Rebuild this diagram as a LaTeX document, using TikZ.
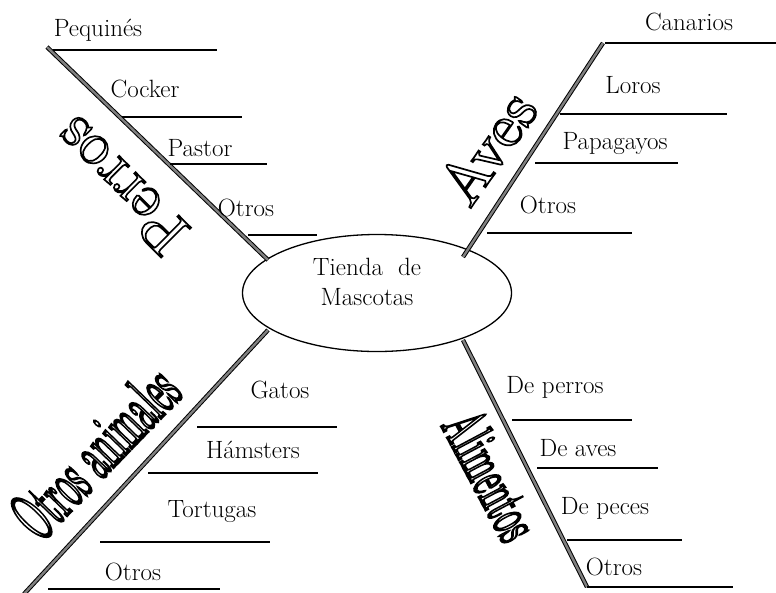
\documentclass[tikz,border=0pt]{standalone}
\usepackage{fontspec}
\newfontfamily\waplain{lmroman10-regular.otf}
\usetikzlibrary{shapes.geometric}
\tikzset{
  spoke/.style={line width=1pt, double=black!50, double distance=2.4pt},
  branch/.style={line width=1.3pt},
  lbl/.style={font=\fontsize{25}{30}\selectfont, inner sep=0pt},
  hubshape/.style={draw, ellipse, line width=1.3pt, minimum width=269pt, minimum height=117pt, inner sep=0pt},
  wordartstyle/.style={inner sep=0pt, text=black},
}
% hollow (outlined) letters through the PDF text render mode
\newcommand\hollow[3]{\fontsize{#1}{#1}\waplain\special{pdf:literal direct 1 Tr #2 w}#3\special{pdf:literal direct 0 Tr}}
\begin{document}
\begin{tikzpicture}[x=1pt,y=-1pt]
\useasboundingbox (0,0) rectangle (776,592);
% hub
\node[hubshape] (hub) at (377,293) {};
\node[lbl, align=center] (hubtext) at (367,282) {Tienda\ \ de\\Mascotas};
% spoke ends
\coordinate (pA) at (47,47);   \coordinate (pB) at (268,260);
\coordinate (aA) at (603,43);  \coordinate (aB) at (463,257);
\coordinate (oA) at (24,594);  \coordinate (oB) at (268,330);
\coordinate (lA) at (463,340); \coordinate (lB) at (587,587);
\draw[spoke] (pA) -- (pB);
\draw[spoke] (aA) -- (aB);
\draw[spoke] (oA) -- (oB);
\draw[spoke] (lA) -- (lB);
% Perros branches
\coordinate (p1a) at (53,50);   \coordinate (p1b) at (217,50);
\coordinate (p2a) at (122,117); \coordinate (p2b) at (242,117);
\coordinate (p3a) at (170,164); \coordinate (p3b) at (267,164);
\coordinate (p4a) at (248,235); \coordinate (p4b) at (317,235);
\draw[branch] (p1a) -- (p1b); \draw[branch] (p2a) -- (p2b);
\draw[branch] (p3a) -- (p3b); \draw[branch] (p4a) -- (p4b);
\node[lbl] (pequines) at (98,30) {Pequinés};
\node[lbl] (cocker) at (145,89) {Cocker};
\node[lbl] (pastor) at (200,148) {Pastor};
\node[lbl] (potros) at (246,208) {Otros};
% Aves branches
\coordinate (a1a) at (605,43);  \coordinate (a1b) at (776,43);
\coordinate (a2a) at (560,114); \coordinate (a2b) at (727,114);
\coordinate (a3a) at (535,163); \coordinate (a3b) at (678,163);
\coordinate (a4a) at (487,233); \coordinate (a4b) at (632,233);
\draw[branch] (a1a) -- (a1b); \draw[branch] (a2a) -- (a2b);
\draw[branch] (a3a) -- (a3b); \draw[branch] (a4a) -- (a4b);
\node[lbl] (canarios) at (689,22) {Canarios};
\node[lbl] (loros) at (633,85) {Loros};
\node[lbl] (papagayos) at (615,144) {Papagayos};
\node[lbl] (aotros) at (548,205) {Otros};
% Otros animales branches
\coordinate (o1a) at (197,427); \coordinate (o1b) at (337,427);
\coordinate (o2a) at (148,473); \coordinate (o2b) at (318,473);
\coordinate (o3a) at (100,542); \coordinate (o3b) at (270,542);
\coordinate (o4a) at (48,589);  \coordinate (o4b) at (220,589);
\draw[branch] (o1a) -- (o1b); \draw[branch] (o2a) -- (o2b);
\draw[branch] (o3a) -- (o3b); \draw[branch] (o4a) -- (o4b);
\node[lbl] (gatos) at (280,390) {Gatos};
\node[lbl] (hamsters) at (253,450) {Hámsters};
\node[lbl] (tortugas) at (212,512) {Tortugas};
\node[lbl] (ootros) at (133,572) {Otros};
% Alimentos branches
\coordinate (l1a) at (512,420); \coordinate (l1b) at (632,420);
\coordinate (l2a) at (537,468); \coordinate (l2b) at (658,468);
\coordinate (l3a) at (567,540); \coordinate (l3b) at (682,540);
\coordinate (l4a) at (587,587); \coordinate (l4b) at (733,587);
\draw[branch] (l1a) -- (l1b); \draw[branch] (l2a) -- (l2b);
\draw[branch] (l3a) -- (l3b); \draw[branch] (l4a) -- (l4b);
\node[lbl] (deperros) at (555,387) {De perros};
\node[lbl] (deaves) at (578,448) {De aves};
\node[lbl] (depeces) at (605,508) {De peces};
\node[lbl] (lotros) at (614,567) {Otros};
% big titles
\node[wordartstyle, rotate=135, xscale=0.95] (perros) at (120,186) {\hollow{62}{1.7}{Perros}};
\node[wordartstyle, rotate=55] (aves) at (487,147) {\hollow{62}{1.7}{Aves}};
\node[wordartstyle, rotate=46, xscale=0.45] (otrosan) at (95,452) {\hollow{70}{3.2}{Otros animales}};
\node[wordartstyle, rotate=-62, xscale=0.5] (alim) at (492,475) {\hollow{62}{3}{Alimentos}};
\end{tikzpicture}
\end{document}
